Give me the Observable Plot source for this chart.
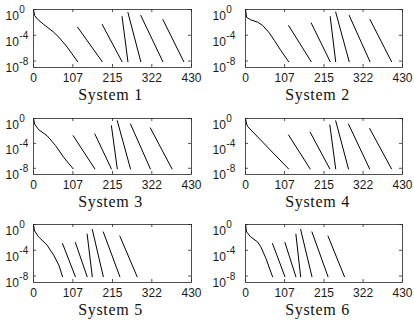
<!DOCTYPE html>
<html><head><meta charset="utf-8">
<script src="https://cdn.jsdelivr.net/npm/d3@7"></script>
<script src="https://cdn.jsdelivr.net/npm/@observablehq/plot@0.6"></script>
<style>
body{margin:0;background:#fff;}
#wrap{position:relative;width:414px;height:320px;overflow:hidden;background:#fff;}
.panel{position:absolute;}
.panel svg text{font-family:"Liberation Sans",Arial,sans-serif;font-size:12px;fill:#1a1a1a;}
.cap{position:absolute;font-family:"Liberation Serif","Times New Roman",serif;font-size:16px;letter-spacing:0.7px;line-height:12px;color:#111;text-align:center;white-space:nowrap;transform:translateX(-50%);}
</style></head><body><div id="wrap"></div>
<script>
// ---- data ----
const xTicks = [0, 107, 215, 322, 430];
const yTicks = [1, 1e-4, 1e-8];
const systemNames = ["System 1", "System 2", "System 3", "System 4", "System 5", "System 6"];
const segEndRes = 8e-9;

const sys1CurveIt = [0, 3, 10, 28, 55, 69, 92, 105, 120];
const sys1CurveRes = [1, 1.2e-1, 3.5e-2, 4.7e-3, 3e-4, 5e-5, 1.4e-6, 1.3e-7, 8e-9];
const sys1SegIt = [120, 187, 241, 257, 292, 352, 409];
const sys1SegTopRes = [1.8e-3, 4.7e-3, 8e-2, 3.4e-1, 1.2e-1, 2.8e-2];

const sys2CurveIt = [0, 3, 14, 33, 47, 65, 79, 97, 118];
const sys2CurveRes = [1, 6.3e-2, 2.5e-2, 1.1e-2, 3.3e-3, 2.4e-4, 1.6e-5, 4.3e-7, 8e-9];
const sys2SegIt = [118, 180, 232, 247, 284, 341, 400];
const sys2SegTopRes = [3.2e-3, 7.9e-3, 7.9e-2, 4e-1, 1.2e-1, 2.8e-2];

const sys3CurveIt = [0, 3, 14, 37, 60, 82, 108];
const sys3CurveRes = [1, 1.3e-1, 1.6e-2, 1.7e-3, 4.4e-5, 5.9e-7, 8e-9];
const sys3SegIt = [108, 167, 212, 228, 264, 318, 377];
const sys3SegTopRes = [1.7e-3, 3.2e-3, 6.8e-2, 4.3e-1, 1.3e-1, 3e-2];

const sys4CurveIt = [0, 3, 6, 60, 118];
const sys4CurveRes = [1, 1.3e-1, 5e-2, 2.6e-5, 8e-9];
const sys4SegIt = [118, 177, 231, 247, 282, 340, 400];
const sys4SegTopRes = [2.2e-3, 6.3e-3, 8.9e-2, 4.3e-1, 1.3e-1, 2.5e-2];

const sys5CurveIt = [0, 3, 14, 37, 55, 69, 79];
const sys5CurveRes = [1, 1e-1, 1.2e-2, 6.3e-4, 1.7e-5, 5e-7, 8e-9];
const sys5SegIt = [79, 114, 146, 160, 190, 235, 282];
const sys5SegTopRes = [1.1e-3, 1.6e-3, 3.2e-2, 1.7e-1, 7e-2, 1.6e-2];

const sys6CurveIt = [0, 3, 14, 33, 42, 56, 74];
const sys6CurveRes = [1, 7e-2, 1.2e-2, 2e-3, 3.4e-4, 5.4e-6, 8e-9];
const sys6SegIt = [74, 108, 138, 151, 182, 226, 271];
const sys6SegTopRes = [1.1e-3, 1.6e-3, 3.2e-2, 1.7e-1, 7e-2, 1.6e-2];

const systems = [
  [sys1CurveIt, sys1CurveRes, sys1SegIt, sys1SegTopRes],
  [sys2CurveIt, sys2CurveRes, sys2SegIt, sys2SegTopRes],
  [sys3CurveIt, sys3CurveRes, sys3SegIt, sys3SegTopRes],
  [sys4CurveIt, sys4CurveRes, sys4SegIt, sys4SegTopRes],
  [sys5CurveIt, sys5CurveRes, sys5SegIt, sys5SegTopRes],
  [sys6CurveIt, sys6CurveRes, sys6SegIt, sys6SegTopRes]
];

// ---- layout ----
const colLayout = [{left: 0, ml: 33, mr: 16, labelLeft: 5, capX: 110.5},
                   {left: 207, ml: 38, mr: 12, labelLeft: 5, capX: 110.5}];
const rowLayout = [{top: 0, inner: 58}, {top: 109, inner: 56}, {top: 215, inner: 58}];
const mTop = 9, mBottom = 20, capOffset = 21.5;

function buildRows(s) {
  const [cIt, cRes, sIt, sTop] = s;
  const rows = cIt.map((it, i) => ({it, res: cRes[i], seg: 0}));
  for (let k = 0; k < sTop.length; k++) {
    rows.push({it: sIt[k], res: sTop[k], seg: k + 1});
    rows.push({it: sIt[k + 1], res: segEndRes, seg: k + 1});
  }
  return rows;
}

const ns = "http://www.w3.org/2000/svg";
const wrap = document.getElementById("wrap");
const axisColor = "#262626";

systems.forEach((s, i) => {
  const col = colLayout[i % 2], row = rowLayout[Math.floor(i / 2)];
  const W = 207, H = mTop + row.inner + mBottom;
  const innerW = W - col.ml - col.mr;
  const chart = Plot.plot({
    width: W, height: H,
    marginLeft: col.ml, marginRight: col.mr, marginTop: mTop, marginBottom: mBottom,
    x: {domain: [0, 430], ticks: xTicks, tickSize: 0, tickPadding: 6, label: null, tickFormat: d => String(d)},
    y: {type: "log", domain: [1e-9, 1], ticks: yTicks, tickSize: 0, tickPadding: 4, label: null,
        tickFormat: d => "10^" + Math.round(Math.log10(d))},
    style: {fontFamily: "'Liberation Sans', Arial, sans-serif", fontSize: "12px", color: axisColor, background: "transparent", overflow: "visible"},
    marks: [
      Plot.line(buildRows(s), {x: "it", y: "res", z: "seg", stroke: "#000", strokeWidth: 1}),
      Plot.tickX(xTicks, {x: d => d, insetTop: row.inner - 3, stroke: axisColor, strokeWidth: 0.8}),
      Plot.tickX(xTicks, {x: d => d, insetBottom: row.inner - 3, stroke: axisColor, strokeWidth: 0.8}),
      Plot.tickY(yTicks, {y: d => d, insetRight: innerW - 3, stroke: axisColor, strokeWidth: 0.8}),
      Plot.tickY(yTicks, {y: d => d, insetLeft: innerW - 3, stroke: axisColor, strokeWidth: 0.8}),
      Plot.frame({stroke: axisColor, strokeWidth: 0.8})
    ]
  });
  chart.querySelectorAll('g[aria-label="y-axis tick label"] text').forEach(t => {
    const parts = t.textContent.split("^");
    t.textContent = "";
    t.setAttribute("dy", "0.55em");
    t.setAttribute("text-anchor", "start");
    t.setAttribute("dx", String(col.labelLeft - (col.ml - 4)));
    const a = document.createElementNS(ns, "tspan");
    a.textContent = parts[0];
    const b = document.createElementNS(ns, "tspan");
    b.textContent = parts[1];
    b.setAttribute("dy", "-7");
    b.setAttribute("dx", "0.5");
    b.setAttribute("font-size", "10px");
    t.append(a, b);
  });
  const box = document.createElement("div");
  box.className = "panel";
  box.style.left = col.left + "px";
  box.style.top = row.top + "px";
  box.appendChild(chart);
  wrap.appendChild(box);
  const cap = document.createElement("div");
  cap.className = "cap";
  cap.textContent = systemNames[i];
  cap.style.left = (col.left + col.capX) + "px";
  cap.style.top = (row.top + mTop + row.inner + capOffset) + "px";
  wrap.appendChild(cap);
});
</script>
</body></html>
